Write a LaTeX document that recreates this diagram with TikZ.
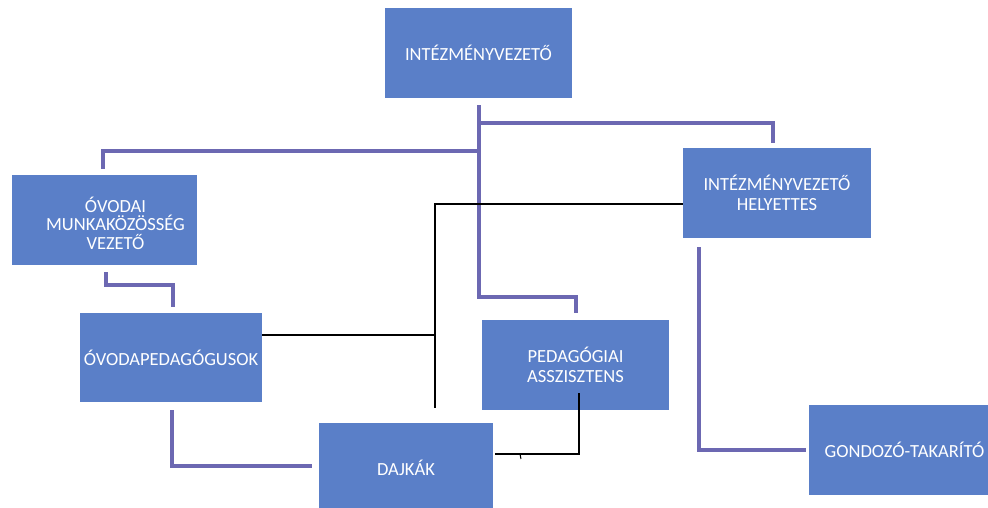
\documentclass[tikz,border=0pt]{standalone}
\usepackage{fontspec}
\setmainfont{Carlito}
\usetikzlibrary{calc}
\definecolor{boxblue}{RGB}{90,127,200}
\definecolor{linepurple}{RGB}{108,104,178}
\tikzset{
  orgbox/.style={draw=none, fill=boxblue, text=white, align=center, inner sep=0pt,
    minimum width=187pt, minimum height=90pt,
    font=\fontsize{18.5}{20}\selectfont},
  orgtxt/.style={text=white, align=center, inner sep=0pt, font=\fontsize{18.5}{18.5}\selectfont},
  pl/.style={draw=linepurple, line width=4pt},
  bl/.style={draw=black, line width=1.5pt},
}
\begin{document}
\begin{tikzpicture}[x=1pt,y=1pt]
\clip (0,0) rectangle (988,508);
\fill[white] (0,0) rectangle (988,508);
% boxes
\node[orgbox] (top) at (478.5,455) {INTÉZMÉNYVEZETŐ};
\node[orgbox, minimum width=185pt] (ovodai) at (104.5,288) {};
\node[orgtxt] at ([xshift=11pt,yshift=-3pt]ovodai.center) {ÓVODAI\\MUNKAKÖZÖSSÉG\\VEZETŐ};
\node[orgbox, minimum width=182pt, minimum height=89pt] (ovped) at (171,150.5) {ÓVODAPEDAGÓGUSOK};
\node[orgbox, minimum width=174pt] (dajkak) at (406,40) {DAJKÁK};
\node[orgbox] (pedasz) at (575.5,143) {PEDAGÓGIAI\\ASSZISZTENS};
\node[orgbox, minimum width=188pt] (helyettes) at (777,315) {INTÉZMÉNYVEZETŐ\\HELYETTES};
\node[orgbox, minimum width=191pt] (gondozo) at (904.5,58) {GONDOZÓ-TAKARÍTÓ};
% purple connectors
\coordinate (j1) at (478.5,385);
\coordinate (j2) at (478.5,357);
\draw[pl] ([yshift=-7pt]top.south) -- (478.5,211) -| ([yshift=7pt]pedasz.north);
\draw[pl] (j1) -| ([xshift=-4pt,yshift=5pt]helyettes.north);
\draw[pl] (j2) -| ([xshift=-1.5pt,yshift=6pt]ovodai.north);
\draw[pl] ([xshift=1.5pt,yshift=-7pt]ovodai.south) -- ++(0,-13) -| ([xshift=2pt,yshift=6pt]ovped.north);
\draw[pl] ([xshift=1pt,yshift=-8pt]ovped.south) |- ([xshift=-7pt,yshift=2pt]dajkak.west);
\draw[pl] ([xshift=-78pt,yshift=-9pt]helyettes.south) |- ([xshift=-3pt]gondozo.west);
% black connectors
\coordinate (k) at (435,304);
\coordinate (kb) at (435,100);
\draw[bl] ([yshift=22.5pt]ovped.east) -- (ovped.east |- 0,173) -- (435,173);
\draw[bl] (kb) -- (k) -- (k -| helyettes.west);
\draw[bl] ($(pedasz.south)+(3.5,17)$) |- ($(dajkak.east)+(2,14)$);
\draw[bl, line width=1pt] (520,54) -- (521,49);
\end{tikzpicture}
\end{document}
